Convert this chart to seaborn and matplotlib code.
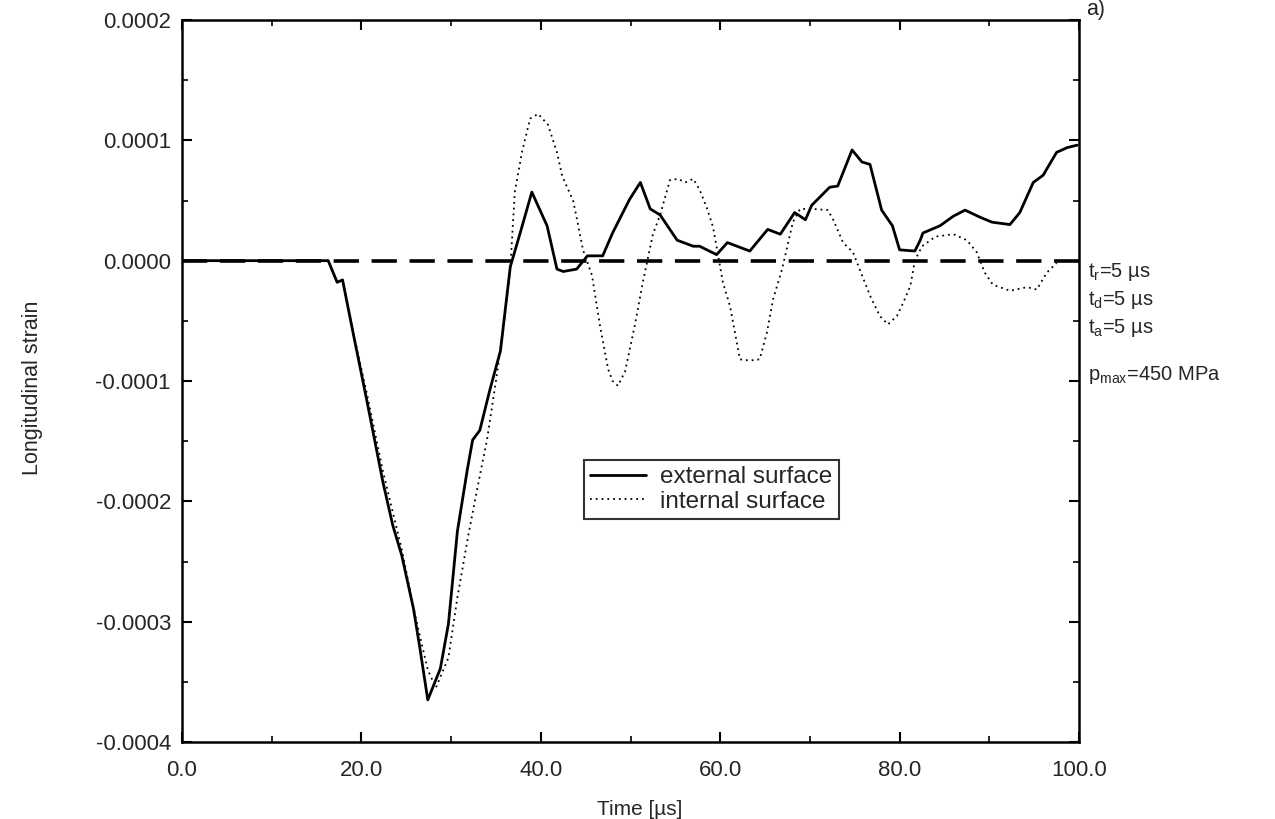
import numpy as np
import pandas as pd
import matplotlib
matplotlib.use("Agg")
import matplotlib.pyplot as plt
import seaborn as sns
from matplotlib.ticker import MultipleLocator, FormatStrFormatter

# ---------------- data (strain in units of 1e-4) ----------------
scale = 1e-4
t_ext = [0, 16.3, 17.3, 17.9, 19.1, 20.6, 22.4, 23.5, 24.5, 25.8, 26.5, 27.4,
         28.8, 29.7, 30.7, 31.8, 32.4, 33.2, 34.3, 35.5, 36.6, 37.7, 39.0, 40.7,
         41.8, 42.5, 44.0, 45.2, 46.9, 48.0, 49.9, 51.1, 52.2, 53.3, 55.2, 57.0,
         57.7, 59.6, 60.8, 63.3, 65.3, 66.7, 68.3, 69.5, 70.2, 72.2, 73.1, 74.7,
         75.8, 76.7, 78.0, 79.2, 80.0, 81.7, 82.3, 82.6, 84.5, 86.0, 87.3, 89.0,
         90.3, 92.3, 93.4, 94.9, 96.0, 97.5, 98.7, 99.8]
s_ext = [0, 0, -0.18, -0.16, -0.61, -1.16, -1.84, -2.2, -2.45, -2.89, -3.21, -3.65,
         -3.39, -3.02, -2.25, -1.74, -1.49, -1.41, -1.08, -0.75, -0.05, 0.23, 0.57, 0.29,
         -0.07, -0.09, -0.07, 0.04, 0.04, 0.23, 0.51, 0.65, 0.43, 0.38, 0.17, 0.12,
         0.12, 0.05, 0.15, 0.08, 0.26, 0.22, 0.40, 0.34, 0.46, 0.61, 0.62, 0.92,
         0.82, 0.80, 0.42, 0.29, 0.09, 0.08, 0.17, 0.23, 0.29, 0.37, 0.42, 0.36,
         0.32, 0.30, 0.40, 0.65, 0.71, 0.90, 0.94, 0.96]

t_int = [0, 16.3, 17.3, 17.9, 19.1, 20.6, 22.4, 24.5, 26.0, 27.4, 28.3, 29.7, 30.7,
         31.9, 32.9, 34.0, 35.0, 35.8, 36.6, 37.1, 37.9, 38.8, 39.7, 40.8, 41.8, 42.4,
         43.6, 44.1, 44.7, 45.7, 46.6, 47.5, 48.0, 48.6, 49.4, 50.5, 51.4, 52.5, 53.3,
         54.4, 55.3, 56.1, 57.0, 57.7, 58.5, 59.2, 60.3, 61.1, 62.2, 63.3, 64.4, 65.2,
         65.9, 66.9, 68.1, 68.9, 70.3, 72.0, 72.6, 73.7, 74.8, 75.8, 76.7, 77.8, 78.7,
         79.7, 80.4, 81.2, 81.7, 82.5, 84.0, 86.0, 87.5, 88.6, 89.5, 90.4, 92.3, 94.2,
         95.3, 96.4, 97.5]
s_int = [0, 0, -0.18, -0.16, -0.60, -1.10, -1.75, -2.40, -2.95, -3.40, -3.55, -3.30, -2.80,
         -2.29, -1.90, -1.49, -1.00, -0.57, -0.07, 0.57, 0.90, 1.18, 1.22, 1.13, 0.90, 0.70,
         0.50, 0.32, 0.09, -0.12, -0.54, -0.90, -1.00, -1.04, -0.92, -0.53, -0.17, 0.22, 0.38,
         0.67, 0.68, 0.65, 0.68, 0.59, 0.44, 0.28, -0.18, -0.38, -0.82, -0.83, -0.82, -0.60,
         -0.32, -0.07, 0.32, 0.43, 0.43, 0.42, 0.34, 0.15, 0.07, -0.12, -0.29, -0.46, -0.53,
         -0.46, -0.35, -0.21, 0.00, 0.12, 0.20, 0.22, 0.17, 0.07, -0.10, -0.20, -0.25, -0.22,
         -0.24, -0.10, -0.02]

x_ticks = [0, 20, 40, 60, 80, 100]
y_ticks = [-0.0004, -0.0003, -0.0002, -0.0001, 0.0, 0.0001, 0.0002]
labels = ["external surface", "internal surface"]
param_lines = ["t$_r$=5 \u00b5s", "t$_d$=5 \u00b5s", "t$_a$=5 \u00b5s"]
pmax_text = "p$_{max}$=450 MPa"

# ---------------- plotting ----------------
sns.set_theme(style="ticks")
plt.rcParams['font.family'] = ['Liberation Sans', 'DejaVu Sans']
plt.rcParams['mathtext.fontset'] = 'custom'
plt.rcParams['mathtext.rm'] = 'Liberation Sans'
plt.rcParams['mathtext.it'] = 'Liberation Sans'

df_ext = pd.DataFrame({"t": t_ext, "s": np.array(s_ext) * scale})
df_int = pd.DataFrame({"t": t_int, "s": np.array(s_int) * scale})

fig = plt.figure(figsize=(12.75, 8.19), dpi=100)
ax = fig.add_axes([182/1275, 1 - 742/819, (1079-182)/1275, (742-20)/819])

ax.axhline(0.0, color="black", lw=2.6, ls=(0, (7, 3.5)), zorder=1)
sns.lineplot(data=df_ext, x="t", y="s", ax=ax, color="black", lw=2.0,
             label=labels[0], estimator=None, sort=False, zorder=3)
sns.lineplot(data=df_int, x="t", y="s", ax=ax, color="black", lw=1.3,
             ls=(0, (1, 2.2)), label=labels[1], estimator=None, sort=False, zorder=2)

ax.set_xlim(0, 100)
ax.set_ylim(-0.0004, 0.0002)
ax.set_xticks(x_ticks)
ax.set_yticks(y_ticks)
ax.xaxis.set_major_formatter(FormatStrFormatter("%.1f"))
ax.yaxis.set_major_formatter(FormatStrFormatter("%.4f"))
ax.xaxis.set_minor_locator(MultipleLocator(10))
ax.yaxis.set_minor_locator(MultipleLocator(0.00005))
ax.tick_params(which="both", direction="in", top=True, right=True, color="black")
ax.tick_params(which="major", length=7, width=1.5, labelsize=16)
ax.tick_params(axis="y", which="major", pad=8)
ax.tick_params(axis="x", which="major", pad=13)
ax.tick_params(which="minor", length=4, width=1.2)
for sp in ax.spines.values():
    sp.set_linewidth(1.8)
    sp.set_color("black")

ax.set_xlabel("Time [\u00b5s]", fontsize=15)
ax.set_ylabel("Longitudinal strain", fontsize=15.5)
ax.xaxis.set_label_coords(0.51, -0.08)
ax.yaxis.set_label_coords(-0.155, 0.49)

leg = ax.legend(loc="center", bbox_to_anchor=(0.59, 0.35), fontsize=17.5,
                frameon=True, fancybox=False, edgecolor="black",
                handlelength=2.3, handletextpad=0.6, borderpad=0.25,
                labelspacing=0.1)
leg.get_frame().set_linewidth(1.5)

for i, txt in enumerate(param_lines):
    fig.text(1088/1275, 1 - (272 + i*28)/819, txt, fontsize=14.5, va="center", ha="left")
fig.text(1088/1275, 1 - 375/819, pmax_text, fontsize=14.5, va="center", ha="left")
fig.text(1086/1275, 1 - 10/819, "a)", fontsize=15.5, va="center", ha="left")

fig.savefig("out.png", dpi=100)
